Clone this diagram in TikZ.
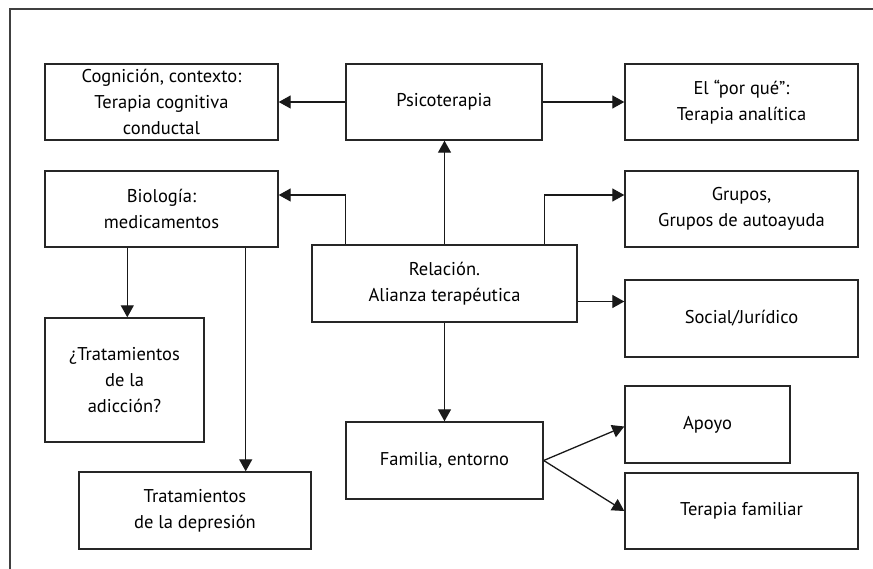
\documentclass[tikz,border=0pt]{standalone}
\usepackage{fontspec}
\setmainfont{PT Sans}
\usepackage{tikz}
\usetikzlibrary{arrows.meta}

\begin{document}
\begin{tikzpicture}[x=1pt,y=-1pt,
    box/.style={draw=black!85, line width=1.4pt, align=center, inner sep=0pt,
      font=\fontsize{18.5}{26}\selectfont},
    link/.style={draw=black!90, line width=1.3pt, -{Triangle[length=12pt,width=13pt]}}]
  \useasboundingbox (0,0) rectangle (873,569);
  % frame (only top and left edge are visible)
  \draw[line width=2pt, black!75] (873,9) -- (10,9) -- (10,569);

  % top row
  \node[box, minimum width=233, minimum height=76] (cog) at (161.5,102)
    {Cognición, contexto:\\Terapia cognitiva\\conductal};
  \node[box, minimum width=196, minimum height=76] (psi) at (444,102) {Psicoterapia};
  \node[box, minimum width=233, minimum height=76] (por) at (741.5,102)
    {El “por qué”:\\Terapia analítica};

  % middle
  \node[box, minimum width=233, minimum height=76] (bio) at (161.5,209)
    {Biología:\\medicamentos};
  \node[box, minimum width=265, minimum height=77] (rel) at (444.5,283.5)
    {Relación.\\Alianza terapéutica};
  \node[box, minimum width=233, minimum height=76] (gru) at (741.5,209)
    {Grupos,\\Grupos de autoayuda};
  \node[box, minimum width=233, minimum height=77] (soc) at (741.5,318.5) {Social/Jurídico};

  % lower part
  \node[box, minimum width=159, minimum height=124] (adi) at (124.5,380)
    {¿Tratamientos\\de la\\adicción?};
  \node[box, minimum width=232, minimum height=77] (dep) at (195,510.5)
    {Tratamientos\\de la depresión};
  \node[box, minimum width=197, minimum height=77] (fam) at (444.5,460.5) {Familia, entorno};
  \node[box, minimum width=165, minimum height=77] (apo) at (707.5,424.5) {Apoyo};
  \node[box, minimum width=233, minimum height=76] (ter) at (741.5,511) {Terapia familiar};

  % connectors
  \draw[link] (psi.west) -- (cog.east);
  \draw[link] (psi.east) -- (por.west);
  \draw[link] (rel.north) -- (rel.north |- psi.south);
  \draw[link] ([xshift=34pt]rel.north west) |- ([yshift=14pt]bio.east);
  \draw[link] ([xshift=-33pt]rel.north east) |- ([yshift=14pt]gru.west);
  \draw[link] ([yshift=-18pt]rel.east) -- ([yshift=-18pt]rel.east -| soc.west);
  \draw[link] (rel.south) -- (rel.south |- fam.north);
  \draw[link] ([xshift=83pt]bio.south west) -- ([xshift=83pt]bio.south west |- adi.north);
  \draw[link] ([xshift=-33pt]bio.south east) -- ([xshift=-33pt]bio.south east |- dep.north);
  \draw[link] (fam.east) -- ([yshift=-2pt]apo.west);
  \draw[link] (fam.east) -- (ter.west);
\end{tikzpicture}
\end{document}
